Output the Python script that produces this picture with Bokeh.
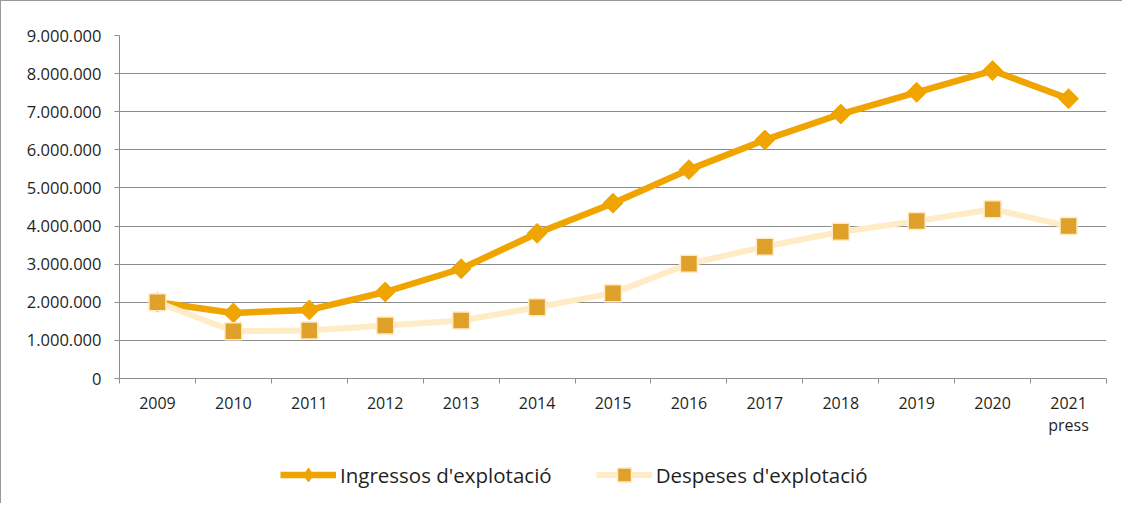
import numpy as np
from bokeh.plotting import figure
from bokeh.layouts import column
from bokeh.models import Range1d, FixedTicker, Legend, LegendItem
from bokeh.embed import file_html
from bokeh.resources import INLINE

years = ["2009", "2010", "2011", "2012", "2013", "2014", "2015", "2016",
         "2017", "2018", "2019", "2020", "2021\npress"]
ingressos = [2000000, 1720000, 1800000, 2270000, 2880000, 3810000, 4600000,
             5480000, 6260000, 6940000, 7510000, 8080000, 7340000]
despeses = [2000000, 1240000, 1260000, 1390000, 1520000, 1870000, 2240000,
            3010000, 3460000, 3850000, 4130000, 4440000, 4000000]
y_ticks = [0, 1000000, 2000000, 3000000, 4000000, 5000000, 6000000,
           7000000, 8000000, 9000000]
y_tick_labels = ["0", "1.000.000", "2.000.000", "3.000.000", "4.000.000",
                 "5.000.000", "6.000.000", "7.000.000", "8.000.000", "9.000.000"]
series_names = ["Ingressos d'explotació", "Despeses d'explotació"]

FONT = "Open Sans"
GRID = "#8c8c8c"
TXT = "#1f1f1f"
C_ING = "#EFA400"
C_DES_LINE = "#FFEBC6"
C_DES_MARK = "#E0A12A"

xs = list(range(len(years)))

p = figure(width=1121, height=447, output_backend="svg", toolbar_location=None,
           x_range=Range1d(-0.5, len(years) - 0.5), y_range=Range1d(0, 9000000),
           min_border_left=118, min_border_right=16, min_border_top=34,
           min_border_bottom=70)
p.outline_line_color = None

# axes
p.xaxis.ticker = FixedTicker(ticks=xs, minor_ticks=[i - 0.5 for i in range(len(years) + 1)])
p.xaxis.major_label_overrides = {i: years[i] for i in xs}
p.xaxis.major_tick_line_color = None
p.xaxis.minor_tick_in = 0
p.xaxis.minor_tick_out = 5
p.xaxis.minor_tick_line_color = GRID
p.xaxis.axis_line_color = GRID
p.xaxis.major_label_text_font = FONT
p.xaxis.major_label_text_font_size = "16px"
p.xaxis.major_label_text_color = TXT
p.xaxis.major_label_text_line_height = 1.0
p.xaxis.major_label_standoff = 7

p.yaxis.ticker = FixedTicker(ticks=y_ticks, minor_ticks=[])
p.yaxis.major_label_overrides = {t: l for t, l in zip(y_ticks, y_tick_labels)}
p.yaxis.major_tick_in = 0
p.yaxis.major_tick_out = 5
p.yaxis.major_tick_line_color = GRID
p.yaxis.axis_line_color = GRID
p.yaxis.minor_tick_line_color = None
p.yaxis.major_label_text_font = FONT
p.yaxis.major_label_text_font_size = "16.5px"
p.yaxis.major_label_text_color = TXT
p.yaxis.major_label_standoff = 13

p.xgrid.grid_line_color = None
p.ygrid.ticker = FixedTicker(ticks=y_ticks)
p.ygrid.grid_line_color = GRID
p.ygrid.grid_line_width = 1

# series
def draw(fig, xv, yi, yd, legend_marks=False):
    l1 = fig.line(xv, yi, line_color=C_ING, line_width=6.5)
    if legend_marks:
        m1 = fig.scatter(xv, yi, marker="diamond", size=14,
                         fill_color=C_ING, line_color=C_ING)
    else:
        m1 = fig.scatter(xv, yi, marker="square", angle=np.pi / 4, size=14,
                         fill_color=C_ING, line_color=C_ING)
    l2 = fig.line(xv, yd, line_color=C_DES_LINE, line_width=6)
    m2 = fig.scatter(xv, yd, marker="square", size=17, fill_color=C_DES_MARK,
                     line_color=C_DES_LINE, line_width=1.5)
    return l1, m1, l2, m2

draw(p, xs, ingressos, despeses)

# legend strip: same series and styles, drawn outside its visible range
lg = figure(width=1121, height=55, output_backend="svg", toolbar_location=None,
            x_axis_type=None, y_axis_type=None,
            x_range=Range1d(100, 101), y_range=Range1d(0, 1),
            min_border_left=0, min_border_right=0, min_border_top=0, min_border_bottom=0)
lg.outline_line_color = None
lg.xgrid.grid_line_color = None
lg.ygrid.grid_line_color = None
l1, m1, l2, m2 = draw(lg, xs, ingressos, despeses, legend_marks=True)

legend = Legend(items=[LegendItem(label=series_names[0], renderers=[l1, m1]),
                       LegendItem(label=series_names[1], renderers=[l2, m2])],
                orientation="horizontal", location=(161, 11),
                label_text_font=FONT, label_text_font_size="20.5px",
                label_text_color=TXT, glyph_width=56, glyph_height=35,
                label_standoff=4, spacing=44, border_line_color=None,
                background_fill_alpha=0, padding=0, margin=0)
lg.add_layout(legend, "center")

layout = column(p, lg, spacing=0)
layout.styles = {"border-left": "1.5px solid #9a9a9a", "border-top": "1.5px solid #9a9a9a"}

open("out.html", "w").write(file_html(layout, INLINE))
